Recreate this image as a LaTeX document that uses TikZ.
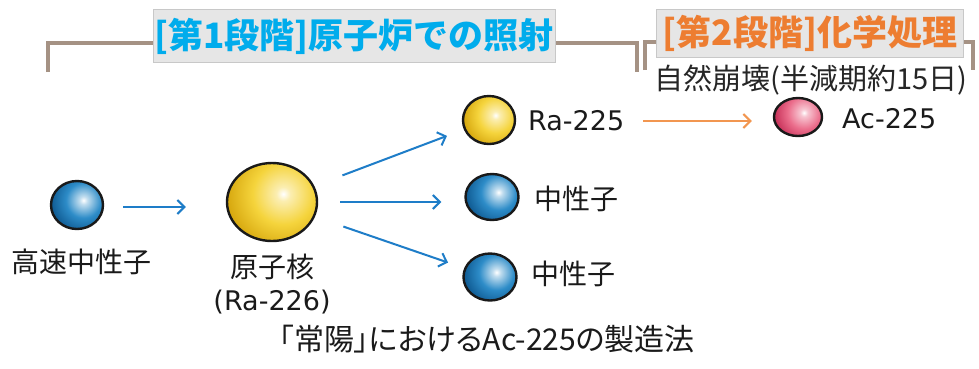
\documentclass[tikz,border=0pt]{standalone}
\usepackage{fontspec}
\setmainfont{DejaVu Sans}
\newfontfamily\jpf{Noto Sans CJK JP}
\newfontfamily\jpp[RawFeature=+palt]{Noto Sans CJK JP}
\usetikzlibrary{arrows.meta,shapes.geometric,calc}
\definecolor{txtc}{RGB}{26,26,26}
\definecolor{brk}{RGB}{165,146,132}
\definecolor{boxf}{RGB}{230,230,230}
\definecolor{boxd}{RGB}{200,200,200}
\definecolor{cyanT}{RGB}{0,172,236}
\definecolor{orgT}{RGB}{237,125,49}
\definecolor{orgA}{RGB}{242,150,80}
\definecolor{blueA}{RGB}{30,125,200}
\definecolor{blueM}{RGB}{45,140,200}
\definecolor{blueD}{RGB}{16,92,148}
\definecolor{yelM}{RGB}{245,212,60}
\definecolor{yelD}{RGB}{215,168,15}
\definecolor{pinkM}{RGB}{235,110,140}
\definecolor{pinkD}{RGB}{198,48,88}
\pgfdeclareradialshading{blueball}{\pgfpoint{0bp}{0bp}}{color(0bp)=(white); color(3bp)=(white!70!blueM); color(13bp)=(blueM); color(24bp)=(blueD); color(50bp)=(blueD)}
\pgfdeclareradialshading{yelball}{\pgfpoint{0bp}{0bp}}{color(0bp)=(white); color(3bp)=(white!60!yelM); color(13bp)=(yelM); color(24bp)=(yelD); color(50bp)=(yelD)}
\pgfdeclareradialshading{pinkball}{\pgfpoint{0bp}{0bp}}{color(0bp)=(white); color(3bp)=(white!60!pinkM); color(13bp)=(pinkM); color(24bp)=(pinkD); color(50bp)=(pinkD)}
\tikzset{
  ballnode/.style n args={4}{ellipse, draw=black!90, line width=2.4pt,
    minimum width=#2, minimum height=#3, inner sep=0pt,
    path picture={\shade[shading=#1] ([xshift={0.25*#4}, yshift={0.18*#4}]path picture bounding box.center) circle ({1.3*#4});}},
  txt/.style={text=txtc, inner sep=0pt, font=\jpf\fontsize{28}{34}\selectfont},
  lat/.style={text=txtc, inner sep=0pt, font=\fontsize{27}{34}\selectfont},
  titlebox/.style={fill=boxf, draw=boxd, line width=0.8pt, inner sep=0pt,
    font=\jpf\bfseries\fontsize{35}{40}\selectfont},
  bracket/.style={draw=brk, line width=4pt, line join=miter},
  barrow/.style={draw=blueA, line width=2pt, -{Straight Barb[length=7pt,width=14pt,line width=2pt]}},
  oarrow/.style={draw=orgA, line width=2pt, -{Straight Barb[length=7pt,width=14pt,line width=2pt]}},
}
\begin{document}
\begin{tikzpicture}[x=1pt,y=-1pt]
\useasboundingbox (0,0) rectangle (979,368);
\fill[white] (0,0) rectangle (979,368);
% brackets
\coordinate (b1a) at (48,72); \coordinate (b1b) at (637,72);
\coordinate (b2a) at (645,70); \coordinate (b2b) at (973,70);
\draw[bracket] (b1a) -- (48,43) -- (637,43) -- (b1b);
\draw[bracket] (b2a) -- (645,42) -- (973,42) -- (b2b);
% titles
\node[titlebox, text=cyanT, minimum width=402, minimum height=53] (t1) at (354,36) {[第1段階]原子炉での照射};
\node[titlebox, text=orgT, minimum width=307, minimum height=48] (t2) at (810,33) {[第2段階]化学処理};
\node[txt, text=black!85, font=\jpf\fontsize{29}{34}\selectfont] (sub) at (811,80) {自然崩壊(半減期約15日)};
% balls
\node[ballnode={blueball}{52}{48}{26}] (n0) at (77,205) {};
\node[ballnode={yelball}{90}{78}{45}] (nuc) at (272,202) {};
\node[ballnode={yelball}{52}{48}{26}] (ra) at (489,120) {};
\node[ballnode={blueball}{53}{46}{26}] (n2) at (492,197) {};
\node[ballnode={blueball}{53}{47}{26}] (n3) at (490,277) {};
\node[ballnode={pinkball}{48}{38}{24}] (ac) at (798,117) {};
% labels
\node[txt] (l0) at (81,262) {高速中性子};
\node[txt] (lnuc) at (272,267) {原子核};
\node[lat] (lnuc2) at (272,302) {(Ra-226)};
\node[lat, anchor=west] (lra) at (528,121) {Ra-225};
\node[txt, anchor=west] (l2) at (534,199) {中性子};
\node[txt, anchor=west] (l3) at (531,274) {中性子};
\node[lat, anchor=west] (lac) at (842,119) {Ac-225};
\node[txt, font=\jpp\fontsize{30}{34}\selectfont] (cap) at (487,339) {「常陽」におけるAc-225の製造法};
% arrows
\draw[barrow, shorten <=19pt, shorten >=40pt] ([yshift=-2]n0.east) -- ([yshift=-2]n0.east -| nuc.west);
\draw[barrow, shorten <=30pt, shorten >=18pt] (nuc) -- (ra);
\draw[barrow, shorten <=22pt, shorten >=23pt] (nuc.east) -- (nuc.east -| n2.west);
\draw[barrow, shorten <=30pt, shorten >=17pt] (nuc) -- (n3);
\draw[oarrow, shorten <=19pt, shorten >=21pt] (lra.east) -- (lra.east -| ac.west);
\end{tikzpicture}
\end{document}
